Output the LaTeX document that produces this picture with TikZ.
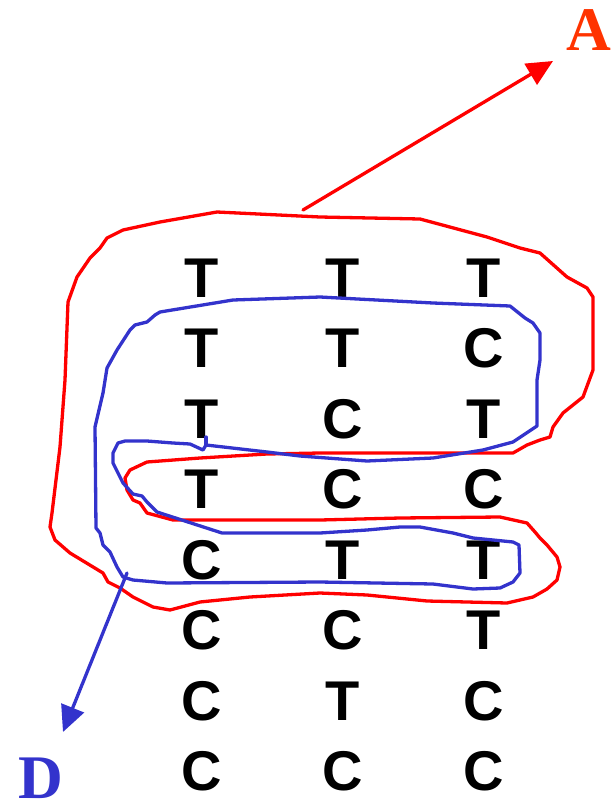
\documentclass[tikz,border=0pt]{standalone}
\usepackage{fontspec}
\setmainfont{Liberation Serif}
\newfontfamily\basefont{Liberation Sans}
\usetikzlibrary{arrows.meta}

\definecolor{penred}{RGB}{255,0,0}
\definecolor{penblue}{RGB}{51,51,204}
\definecolor{tagred}{RGB}{255,51,0}

\tikzset{
  redpen/.style={line width=3.3pt, penred, line join=round, line cap=round},
  bluepen/.style={line width=3.3pt, penblue, line join=round, line cap=round},
  base/.style={anchor=base, inner sep=0pt, font=\basefont\bfseries\fontsize{56}{56}\selectfont},
  tag/.style={anchor=base, inner sep=0pt, font=\bfseries\fontsize{62}{62}\selectfont},
  tip/.style={-{Triangle[length=26pt,width=24pt]}}
}

\begin{document}
\begin{tikzpicture}[x=1pt,y=-1pt]
  \useasboundingbox (0,0) rectangle (614,806);

  % the bases, one row per line
  \foreach \a/\b/\c [count=\i] in {T/T/T, T/T/C, T/C/T, T/C/C, C/T/T, C/C/T, C/T/C, C/C/C} {
    \node [base] (b\i-1) at (202,226.5+70.5*\i) {\a};
    \node [base] (b\i-2) at (343,226.5+70.5*\i) {\b};
    \node [base] (b\i-3) at (484,226.5+70.5*\i) {\c};
  }

  % outer red loop
  \draw [redpen] (320,217)--(217,212)--(160,222)--(123,230)--(107,238)--(100,248)--(90,258)
    --(77,277)--(68,302)--(65,380)--(60,447)--(52,513)--(50,527)--(55,540)--(70,553)
    --(103,573)--(108,582)--(120,588)--(133,597)--(153,607)--(170,610)--(200,602)
    --(250,597)--(320,593)--(367,595)--(427,601)--(507,603)--(533,597)--(547,589)
    --(557,580)--(560,567)--(557,557)--(547,545)--(540,538)--(535,532)--(527,523)
    --(500,517)--(400,518)--(320,520)--(173,520)--(147,513)--(140,503)--(133,500)
    --(127,490)--(125,478)--(130,470)--(147,462)--(200,458)--(267,454)--(320,453)
    --(513,453)--(527,445)--(540,440)--(550,437)--(553,427)--(563,413)--(583,397)
    --(593,370)--(593,297)--(587,288)--(567,277)--(540,253)--(520,248)--(487,237)
    --(420,219)--cycle;

  % inner blue loop
  \draw [bluepen] (320,297)--(233,300)--(160,312)--(155,315)--(147,322)--(135,325)--(130,330)
    --(117,350)--(107,368)--(103,393)--(95,427)--(96,528)--(100,533)--(103,545)--(110,552)
    --(117,567)--(123,577)--(133,580)--(167,583)--(320,582)--(433,584)--(473,589)
    --(500,588)--(513,582)--(520,573)--(519,545)--(513,542)--(473,538)--(453,533)
    --(420,527)--(400,527)--(367,530)--(320,533)--(222,533)--(157,512)--(147,502)
    --(142,496)--(133,494)--(123,483)--(113,463)--(113,453)--(118,443)--(125,441)
    --(147,441)--(173,443)--(190,444)--(203,450)--(206,445)--(267,452)--(300,456)
    --(367,461)--(433,458)--(483,450)--(513,442)--(537,426)--(537,380)--(540,360)
    --(540,333)--(533,323)--(525,318)--(510,306)--(433,303)--cycle;
  \draw [bluepen] (206,445)--(206,437);

  % arrows out of the loops
  \coordinate (redfrom) at (303,210);
  \coordinate (redto) at (553,61);
  \coordinate (bluefrom) at (127,573);
  \coordinate (blueto) at (63,732);
  \draw [redpen, tip] (redfrom)--(redto);
  \draw [bluepen, tip] (bluefrom)--(blueto);

  \node [tag, tagred] (tagA) at (589,50) {A};
  \node [tag, penblue] (tagD) at (41,798) {D};
\end{tikzpicture}
\end{document}
